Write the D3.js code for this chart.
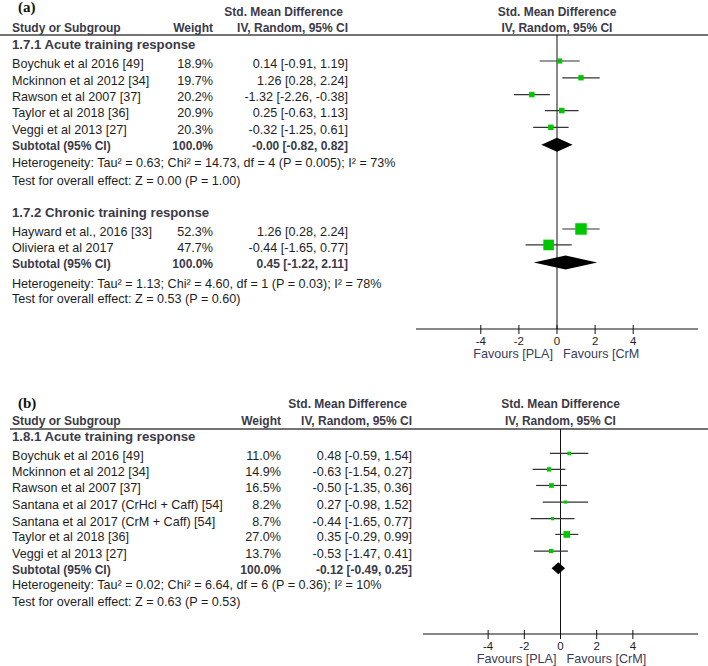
<!DOCTYPE html>
<html><head><meta charset="utf-8">
<script src="https://cdn.jsdelivr.net/npm/d3@7"></script>
<style>
html,body{margin:0;padding:0;background:#fff;}
svg{display:block;}
text{font-family:"Liberation Sans",Arial,sans-serif;}
</style></head>
<body>
<script>
// ---------------- DATA ----------------
// Panel (a), subgroup 1.7.1
const a1Studies = ["Boychuk et al 2016 [49]", "Mckinnon et al 2012 [34]", "Rawson et al 2007 [37]", "Taylor et al 2018 [36]", "Veggi et al 2013 [27]"];
const a1Weights = [18.9, 19.7, 20.2, 20.9, 20.3];
const a1Smd = [0.14, 1.26, -1.32, 0.25, -0.32];
const a1Low = [-0.91, 0.28, -2.26, -0.63, -1.25];
const a1High = [1.19, 2.24, -0.38, 1.13, 0.61];
const a1Subtotal = [-0.00, -0.82, 0.82];
const a1Het = "Heterogeneity: Tau\u00B2 = 0.63; Chi\u00B2 = 14.73, df = 4 (P = 0.005); I\u00B2 = 73%";
const a1Test = "Test for overall effect: Z = 0.00 (P = 1.00)";
// Panel (a), subgroup 1.7.2
const a2Studies = ["Hayward et al., 2016 [33]", "Oliviera et al 2017"];
const a2Weights = [52.3, 47.7];
const a2Smd = [1.26, -0.44];
const a2Low = [0.28, -1.65];
const a2High = [2.24, 0.77];
const a2Subtotal = [0.45, -1.22, 2.11];
const a2Het = "Heterogeneity: Tau\u00B2 = 1.13; Chi\u00B2 = 4.60, df = 1 (P = 0.03); I\u00B2 = 78%";
const a2Test = "Test for overall effect: Z = 0.53 (P = 0.60)";
// Panel (b), subgroup 1.8.1
const b1Studies = ["Boychuk et al 2016 [49]", "Mckinnon et al 2012 [34]", "Rawson et al 2007 [37]", "Santana et al 2017 (CrHcl + Caff) [54]", "Santana et al 2017 (CrM + Caff) [54]", "Taylor et al 2018 [36]", "Veggi et al 2013 [27]"];
const b1Weights = [11.0, 14.9, 16.5, 8.2, 8.7, 27.0, 13.7];
const b1Smd = [0.48, -0.63, -0.50, 0.27, -0.44, 0.35, -0.53];
const b1Low = [-0.59, -1.54, -1.35, -0.98, -1.65, -0.29, -1.47];
const b1High = [1.54, 0.27, 0.36, 1.52, 0.77, 0.99, 0.41];
const b1Subtotal = [-0.12, -0.49, 0.25];
const b1Het = "Heterogeneity: Tau\u00B2 = 0.02; Chi\u00B2 = 6.64, df = 6 (P = 0.36); I\u00B2 = 10%";
const b1Test = "Test for overall effect: Z = 0.63 (P = 0.53)";

const subgroupTitles = ["1.7.1 Acute training response", "1.7.2 Chronic training response", "1.8.1 Acute training response"];
const axisTicks = [-4, -2, 0, 2, 4];
const favoursLeft = "Favours [PLA]";
const favoursRightA = "Favours [CrM";
const favoursRightB = "Favours [CrM]";

// ---------------- DRAW ----------------
const W = 708, H = 666;
const svg = d3.select("body").append("svg").attr("width", W).attr("height", H);

const C_TXT = "#1e1e1e", C_BOLD = "#3a3a48", C_GREEN = "#00c800", C_LINE = "#333";
const FS = "12.6px";
const fmt = v => ((v < 0 || Object.is(v, -0)) ? "-" : "") + Math.abs(v).toFixed(2);
const ciStr = (m, l, h) => `${fmt(m)} [${fmt(l)}, ${fmt(h)}]`;
const wStr = w => w.toFixed(1) + "%";
const sizeScale = d3.scaleLinear().domain([0, 55]).range([1.6, 12]);

function panel(cfg) {
  const g = svg.append("g");
  const x = d3.scaleLinear().domain(cfg.xDomain).range(cfg.xRange);
  const y = d3.scaleLinear().domain([0, 1]).range([cfg.y0, cfg.y0 + cfg.step]);
  const x0 = x(0);

  // panel letter
  g.append("text").attr("x", 18).attr("y", cfg.letterY)
    .style("font-family", '"Liberation Serif","Times New Roman",serif')
    .style("font-weight", "bold").style("font-size", "15px").attr("fill", "#111").text(cfg.letter);

  // headers
  const hb = (t, xx, yy, anchor) => g.append("text").attr("x", xx).attr("y", yy).attr("text-anchor", anchor)
      .style("font-weight", "bold").style("font-size", "12px").attr("fill", C_BOLD).text(t);
  hb("Std. Mean Difference", cfg.ciRight - 5, cfg.hY1, "end");
  hb("Study or Subgroup", 12, cfg.hY2, "start");
  hb("Weight", cfg.wRight, cfg.hY2, "end");
  hb("IV, Random, 95% CI", cfg.ciRight, cfg.hY2, "end");
  hb("Std. Mean Difference", x0, cfg.hY1, "middle");
  hb("IV, Random, 95% CI", x0, cfg.hY2, "middle");
  g.append("line").attr("x1", cfg.lineX0).attr("x2", W).attr("y1", cfg.hLine).attr("y2", cfg.hLine)
    .attr("stroke", "#444").attr("stroke-width", 1.5);

  // zero line
  g.append("line").attr("x1", x0).attr("x2", x0).attr("y1", cfg.hLine).attr("y2", cfg.axisY)
    .attr("stroke", "#111").attr("stroke-width", 1);

  const txt = (t, xx, slot, anchor, bold, fill, fs) => g.append("text").attr("x", xx).attr("y", y(slot) + 4.4)
      .attr("text-anchor", anchor).style("font-size", fs || FS).style("font-weight", bold ? "bold" : "normal")
      .attr("fill", fill).text(t);

  cfg.groups.forEach(gr => {
    txt(gr.title, 12, gr.titleSlot, "start", true, C_BOLD, "13.2px");
    gr.studies.forEach((s, i) => {
      const sl = gr.slots[i];
      txt(s, 12, sl, "start", false, C_TXT);
      txt(wStr(gr.weights[i]), cfg.wRight, sl, "end", false, C_TXT);
      txt(ciStr(gr.smd[i], gr.low[i], gr.high[i]), cfg.ciRight, sl, "end", false, C_TXT);
      const yy = y(sl) - 2.5;
      g.append("line").attr("x1", x(gr.low[i])).attr("x2", x(gr.high[i])).attr("y1", yy).attr("y2", yy)
        .attr("stroke", C_LINE).attr("stroke-width", 1.2);
      const s2 = sizeScale(gr.weights[i]);
      g.append("rect").attr("x", x(gr.smd[i]) - s2 / 2).attr("y", yy - s2 / 2)
        .attr("width", s2).attr("height", s2).attr("fill", C_GREEN);
    });
    // subtotal
    const ss = gr.subSlot;
    txt("Subtotal (95% CI)", 12, ss, "start", true, C_BOLD, "12px");
    txt("100.0%", cfg.wRight, ss, "end", true, C_BOLD, "12px");
    txt(ciStr(gr.sub[0], gr.sub[1], gr.sub[2]), cfg.ciRight, ss, "end", true, C_BOLD, "12px");
    const dy = y(ss) - 1, hh = cfg.diamondH;
    g.append("path").attr("d", `M${x(gr.sub[1])},${dy}L${x(gr.sub[0])},${dy - hh}L${x(gr.sub[2])},${dy}L${x(gr.sub[0])},${dy + hh}Z`)
      .attr("fill", "#000");
    txt(gr.het, 12, gr.hetSlot, "start", false, C_TXT);
    txt(gr.test, 12, gr.testSlot, "start", false, C_TXT);
  });

  // axis
  g.append("line").attr("x1", cfg.xRange[0]).attr("x2", cfg.xRange[1]).attr("y1", cfg.axisY).attr("y2", cfg.axisY)
    .attr("stroke", "#111").attr("stroke-width", 1.2);
  axisTicks.forEach(t => {
    g.append("line").attr("x1", x(t)).attr("x2", x(t)).attr("y1", cfg.axisY - 4).attr("y2", cfg.axisY + 5)
      .attr("stroke", "#111").attr("stroke-width", 1);
    g.append("text").attr("x", x(t)).attr("y", cfg.axisY + 15.5).attr("text-anchor", "middle")
      .style("font-size", "11.5px").attr("fill", C_TXT).text(t < 0 ? "-" + Math.abs(t) : String(t));
  });
  g.append("text").attr("x", x0 - 4).attr("y", cfg.axisY + 28.5).attr("text-anchor", "end")
    .style("font-size", FS).attr("fill", "#3c3c58").text(favoursLeft);
  g.append("text").attr("x", x0 + 6).attr("y", cfg.axisY + 28.5).attr("text-anchor", "start")
    .style("font-size", FS).attr("fill", "#3c3c58").text(cfg.favRight);
}

panel({
  letter: "(a)", letterY: 12, hY1: 16, hY2: 32, hLine: 35, lineX0: 0,
  wRight: 213, ciRight: 348, xDomain: [-7.4, 7.4], xRange: [416, 698], axisY: 329,
  y0: 45, step: 16.8, diamondH: 7, favRight: favoursRightA,
  groups: [
    { title: subgroupTitles[0], titleSlot: 0, studies: a1Studies, weights: a1Weights, smd: a1Smd, low: a1Low, high: a1High,
      slots: [1.1, 2.1, 3.1, 4.05, 5.05], sub: a1Subtotal, subSlot: 6.0, het: a1Het, hetSlot: 7.0, test: a1Test, testSlot: 8.1 },
    { title: subgroupTitles[1], titleSlot: 9.95, studies: a2Studies, weights: a2Weights, smd: a2Smd, low: a2Low, high: a2High,
      slots: [11.1, 12.05], sub: a2Subtotal, subSlot: 13.0, het: a2Het, hetSlot: 14.2, test: a2Test, testSlot: 15.1 }
  ]
});

panel({
  letter: "(b)", letterY: 408, hY1: 408, hY2: 425, hLine: 429, lineX0: 10,
  wRight: 281, ciRight: 412, xDomain: [-7.6, 7.6], xRange: [423, 698], axisY: 634,
  y0: 436.5, step: 16.6, diamondH: 6, favRight: favoursRightB,
  groups: [
    { title: subgroupTitles[2], titleSlot: 0, studies: b1Studies, weights: b1Weights, smd: b1Smd, low: b1Low, high: b1High,
      slots: [1.17, 2.13, 3.1, 4.1, 5.1, 6.05, 7.05], sub: b1Subtotal, subSlot: 8.0, het: b1Het, hetSlot: 8.95, test: b1Test, testSlot: 9.95 }
  ]
});
</script>
</body></html>
